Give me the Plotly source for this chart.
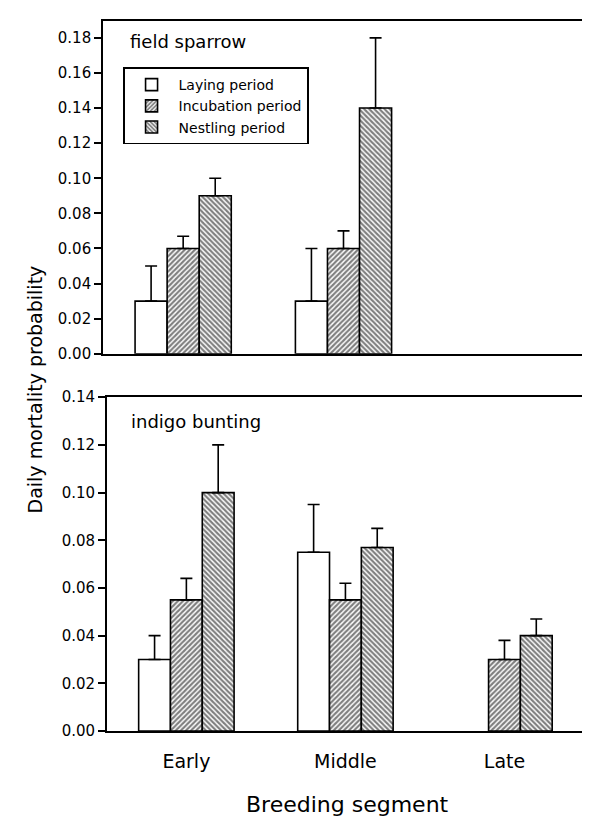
import plotly.graph_objects as go

# ---- data ----
segments = ["Early", "Middle", "Late"]
periods = ["Laying period", "Incubation period", "Nestling period"]

# field sparrow (top panel)
fs_laying = [0.03, 0.03, None]
fs_laying_err = [0.02, 0.03, None]
fs_incub = [0.06, 0.06, None]
fs_incub_err = [0.007, 0.01, None]
fs_nest = [0.09, 0.14, None]
fs_nest_err = [0.01, 0.04, None]

# indigo bunting (bottom panel)
ib_laying = [0.03, 0.075, None]
ib_laying_err = [0.01, 0.02, None]
ib_incub = [0.055, 0.055, 0.03]
ib_incub_err = [0.009, 0.007, 0.008]
ib_nest = [0.10, 0.077, 0.04]
ib_nest_err = [0.02, 0.008, 0.007]

top_ticks = [0.00, 0.02, 0.04, 0.06, 0.08, 0.10, 0.12, 0.14, 0.16, 0.18]
bot_ticks = [0.00, 0.02, 0.04, 0.06, 0.08, 0.10, 0.12, 0.14]

FONT = "DejaVu Sans"
styles = [
    dict(color="white", pattern=None),
    dict(color="white", pattern=dict(shape="/", fgcolor="black", bgcolor="white", size=3.6, solidity=0.62)),
    dict(color="white", pattern=dict(shape="\\", fgcolor="black", bgcolor="white", size=3.6, solidity=0.62)),
]

fig = go.Figure()

def add(vals, errs, idx, xa, ya, show):
    st = styles[idx]
    marker = dict(color=st["color"], line=dict(color="black", width=1.6))
    if st["pattern"]:
        marker["pattern"] = st["pattern"]
    fig.add_trace(go.Bar(
        x=segments, y=vals, name=periods[idx], xaxis=xa, yaxis=ya,
        marker=marker, showlegend=show, legendgroup=periods[idx],
        error_y=dict(type="data", array=errs, arrayminus=[0, 0, 0], symmetric=False,
                     color="black", thickness=1.6, width=6),
    ))

add(fs_laying, fs_laying_err, 0, "x", "y", True)
add(fs_incub, fs_incub_err, 1, "x", "y", True)
add(fs_nest, fs_nest_err, 2, "x", "y", True)
add(ib_laying, ib_laying_err, 0, "x2", "y2", False)
add(ib_incub, ib_incub_err, 1, "x2", "y2", False)
add(ib_nest, ib_nest_err, 2, "x2", "y2", False)

axis_common = dict(showline=True, linecolor="black", linewidth=1.6, mirror=True,
                   showgrid=False, zeroline=False)

# page has an 8px body margin; figure is sized/placed to compensate
fig.update_layout(
    width=582, height=813,
    margin=dict(l=95, r=5, t=4, b=90),
    paper_bgcolor="white", plot_bgcolor="white",
    barmode="group", bargap=0.4, bargroupgap=0,
    font=dict(family=FONT, color="black"),
    xaxis=dict(domain=[0, 1], anchor="y", type="category", categoryarray=segments,
               range=[-0.5, 2.5], showticklabels=False, ticks="", **axis_common),
    yaxis=dict(domain=[0.5313, 1], anchor="x", range=[0, 0.1896], tickvals=top_ticks,
               tickformat=".2f", ticks="outside", ticklen=7, tickwidth=1.6, tickcolor="black",
               tickfont=dict(size=15, family=FONT), **axis_common),
    xaxis2=dict(domain=[0.008, 1], anchor="y2", type="category", categoryarray=segments,
                range=[-0.5, 2.5], ticks="", ticklabelstandoff=12,
                tickfont=dict(size=19, family=FONT), **axis_common),
    yaxis2=dict(domain=[0, 0.4701], anchor="x2", range=[0, 0.14], tickvals=bot_ticks,
                tickformat=".2f", ticks="outside", ticklen=7, tickwidth=1.6, tickcolor="black",
                tickfont=dict(size=15, family=FONT), **axis_common),
    legend=dict(x=0.0415, y=0.9346, xanchor="left", yanchor="top",
                bordercolor="black", borderwidth=1.6, bgcolor="white",
                font=dict(size=14, family=FONT), tracegroupgap=0,
                itemwidth=44),
)

W = 482.0
H = 719.0
def px_x(px):
    return (px - 103) / W
def px_y(py):
    return (731 - py) / H

fig.layout.annotations = [
    dict(text="field sparrow", x=px_x(128), y=px_y(33), xref="paper", yref="paper",
         xanchor="left", yanchor="middle", showarrow=False, font=dict(size=18, family=FONT)),
    dict(text="indigo bunting", x=px_x(129), y=px_y(418), xref="paper", yref="paper",
         xanchor="left", yanchor="middle", showarrow=False, font=dict(size=18, family=FONT)),
    dict(text="Daily mortality probability", x=px_x(35), y=px_y(385), xref="paper", yref="paper",
         xanchor="center", yanchor="middle", textangle=-90, showarrow=False,
         font=dict(size=19, family=FONT)),
    dict(text="Breeding segment", x=px_x(348), y=px_y(805), xref="paper", yref="paper",
         xanchor="center", yanchor="middle", showarrow=False, font=dict(size=22, family=FONT)),
]

fig.write_html("out.html")
